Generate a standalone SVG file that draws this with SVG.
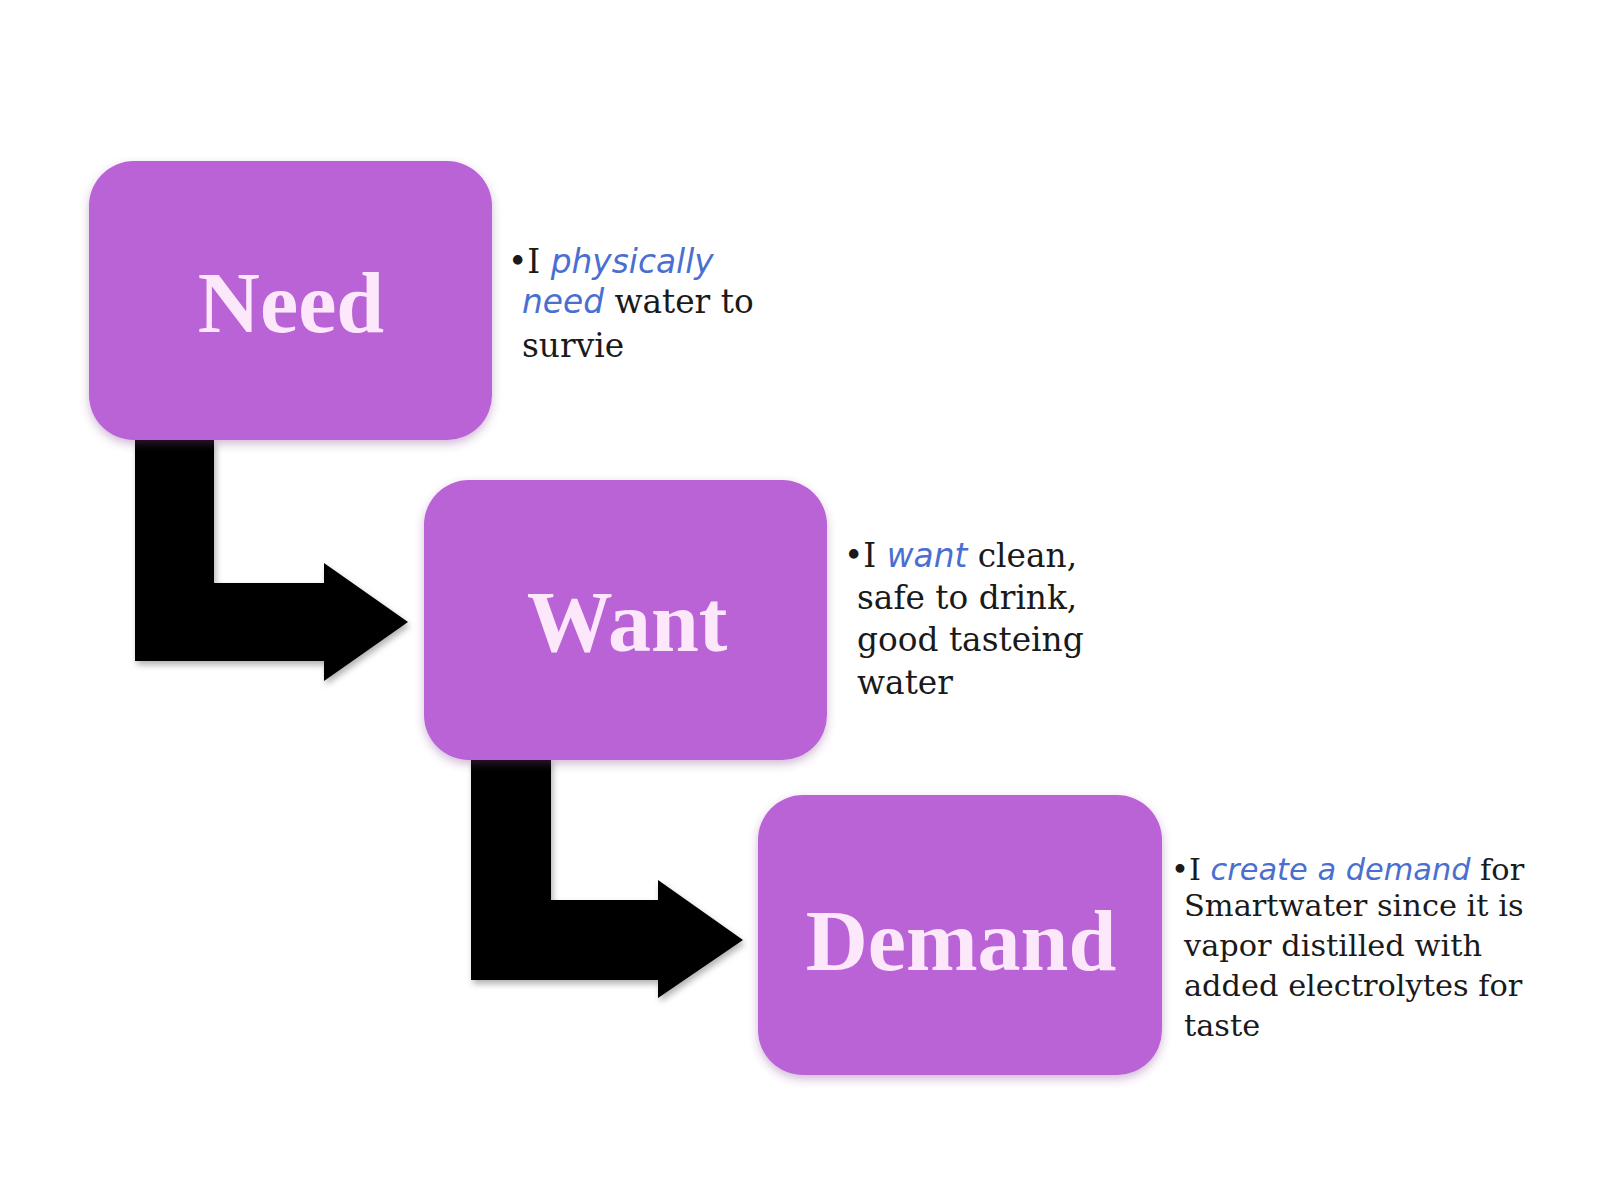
<svg xmlns="http://www.w3.org/2000/svg" width="1600" height="1200" viewBox="0 0 1600 1200">
<defs>
<filter id="glow" x="-10%" y="-10%" width="120%" height="125%">
<feGaussianBlur in="SourceAlpha" stdDeviation="5"/>
<feOffset dx="0" dy="4" result="b"/>
<feFlood flood-color="#7a3a8a" flood-opacity="0.35"/>
<feComposite in2="b" operator="in"/>
<feMerge><feMergeNode/><feMergeNode in="SourceGraphic"/></feMerge>
</filter>
<filter id="ash" x="-10%" y="-10%" width="130%" height="130%">
<feGaussianBlur in="SourceAlpha" stdDeviation="3"/>
<feOffset dx="2" dy="4" result="b"/>
<feFlood flood-color="#000" flood-opacity="0.3"/>
<feComposite in2="b" operator="in"/>
<feMerge><feMergeNode/><feMergeNode in="SourceGraphic"/></feMerge>
</filter>
</defs>
<style>
.box{fill:#b964d6;filter:url(#glow)}
.lbl{font-family:"Liberation Serif","DejaVu Serif",serif;font-weight:bold;font-size:86px;fill:#fde8fb;text-anchor:middle}
.note{font-family:"DejaVu Serif","Liberation Serif",serif;font-size:32.8px;fill:#1a1a1a}
.em{font-family:"DejaVu Sans","Liberation Sans",sans-serif;font-style:italic;fill:#4a6fd0}
.arrow{fill:#000;filter:url(#ash)}
</style>
<rect width="1600" height="1200" fill="#ffffff"/>
<g id="connectors">
<path class="arrow" d="M135,440 H214 V583 H324 V563 L408,622 L324,681 V661 H135 Z"/>
<path class="arrow" d="M471,758 H551 V900 H658 V880 L743,940 L658,998 V980 H471 Z"/>
</g>
<g id="node-need">
<rect class="box" x="89" y="161" width="403" height="279" rx="45"/>
<text class="lbl" x="291" y="332">Need</text>
</g>
<g id="node-want">
<rect class="box" x="424" y="480" width="403" height="280" rx="45"/>
<text class="lbl" x="627" y="651">Want</text>
</g>
<g id="node-demand">
<rect class="box" x="758" y="795" width="404" height="280" rx="45"/>
<text class="lbl" x="961" y="970">Demand</text>
</g>
<g id="note-need" class="note">
<text x="508" y="273">•I <tspan class="em">physically</tspan></text>
<text x="522" y="313"><tspan class="em">need</tspan> water to</text>
<text x="522" y="357">survie</text>
</g>
<g id="note-want" class="note">
<text x="844" y="567">•I <tspan class="em">want</tspan> clean,</text>
<text x="857" y="609">safe to drink,</text>
<text x="857" y="651">good tasteing</text>
<text x="857" y="694">water</text>
</g>
<g id="note-demand" class="note" style="font-size:30.4px">
<text x="1171" y="880">•I <tspan class="em">create a demand</tspan> for</text>
<text x="1184" y="916">Smartwater since it is</text>
<text x="1184" y="956">vapor distilled with</text>
<text x="1184" y="996">added electrolytes for</text>
<text x="1184" y="1036">taste</text>
</g>
</svg>
